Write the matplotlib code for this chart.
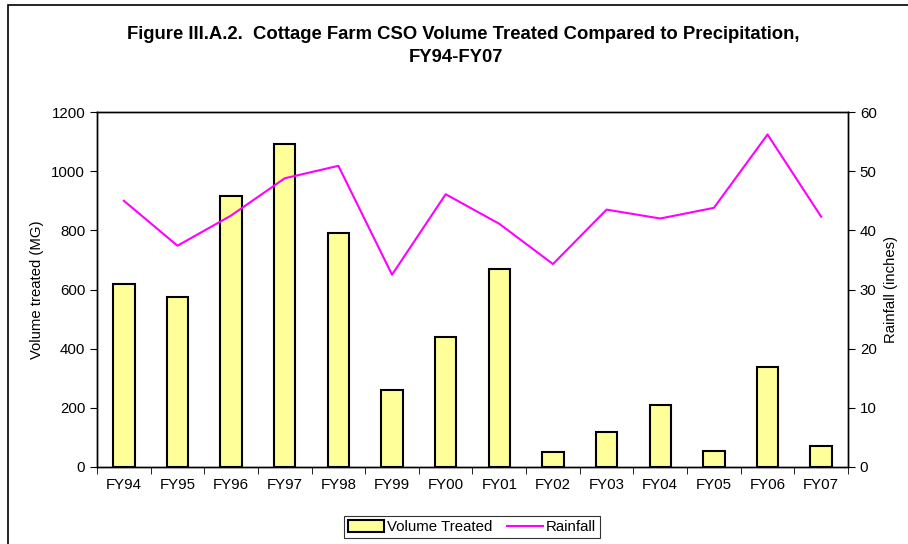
import numpy as np
import matplotlib
matplotlib.use("Agg")
import matplotlib.pyplot as plt
from matplotlib.patches import Rectangle

plt.rcParams['font.family'] = ['Liberation Sans', 'DejaVu Sans']

# data
years = ['FY94', 'FY95', 'FY96', 'FY97', 'FY98', 'FY99', 'FY00',
         'FY01', 'FY02', 'FY03', 'FY04', 'FY05', 'FY06', 'FY07']
volume = [620, 575, 917, 1092, 792, 260, 440, 669, 52, 118, 211, 53, 337, 71]
rainfall = [45.0, 37.4, 42.5, 48.8, 50.9, 32.5, 46.1, 41.1, 34.3, 43.5,
            42.0, 43.8, 56.2, 42.3]

fig = plt.figure(figsize=(9.08, 5.44), dpi=100)
W, H = 908, 544
ax = fig.add_axes([97 / W, 1 - 467 / H, (848 - 97) / W, (467 - 112) / H])
ax2 = ax.twinx()

x = np.arange(len(years))
bars = ax.bar(x, volume, width=0.4, color='#FFFF99', edgecolor='black',
              linewidth=1.5, label='Volume Treated', zorder=2)
line, = ax2.plot(x, rainfall, color='#FF00FF', linewidth=1.5, label='Rainfall')

ax.set_xlim(-0.5, len(years) - 0.5)
ax.set_ylim(0, 1200)
ax.set_yticks(range(0, 1201, 200))
ax2.set_ylim(0, 60)
ax2.set_yticks(range(0, 61, 10))

ax.set_xticks(x)
ax.set_xticklabels(years)
ax.set_xticks(np.arange(-0.5, len(years), 1), minor=True)
ax.tick_params(axis='x', which='major', length=0, pad=8, labelsize=10.8)
ax.tick_params(axis='x', which='minor', length=5, direction='out')
ax.tick_params(axis='y', length=5, direction='out', labelsize=10.8)
ax2.tick_params(axis='y', length=5, direction='out', labelsize=10.8)

for a in (ax, ax2):
    for s in a.spines.values():
        s.set_linewidth(1.0)

ax.set_ylabel('Volume treated (MG)', fontsize=10.7, labelpad=5)
ax2.set_ylabel('Rainfall (inches)', fontsize=10.7, labelpad=5)

fig.text(463 / W, 1 - 34.5 / H, 'Figure III.A.2.  Cottage Farm CSO Volume Treated Compared to Precipitation,',
         ha='center', va='center', fontsize=13.3, fontweight='bold')
fig.text(456 / W, 1 - 58 / H, 'FY94-FY07', ha='center', va='center',
         fontsize=13.3, fontweight='bold')

leg = fig.legend([bars, line], ['Volume Treated', 'Rainfall'], loc='center',
                 bbox_to_anchor=(472 / W, 1 - 527 / H), ncol=2, frameon=True,
                 fancybox=False, edgecolor='black', fontsize=10.8,
                 handlelength=2.4, handleheight=0.8, columnspacing=1.0,
                 borderpad=0.25, handletextpad=0.2)
leg.get_frame().set_linewidth(0.8)

# outer chart border (only partly visible)
fig.patches.append(Rectangle((8 / W, -0.1), 1.2, 1 - 5 / H + 0.1,
                             transform=fig.transFigure, fill=False,
                             edgecolor='black', linewidth=1.2))

fig.savefig('out.png', dpi=100)
